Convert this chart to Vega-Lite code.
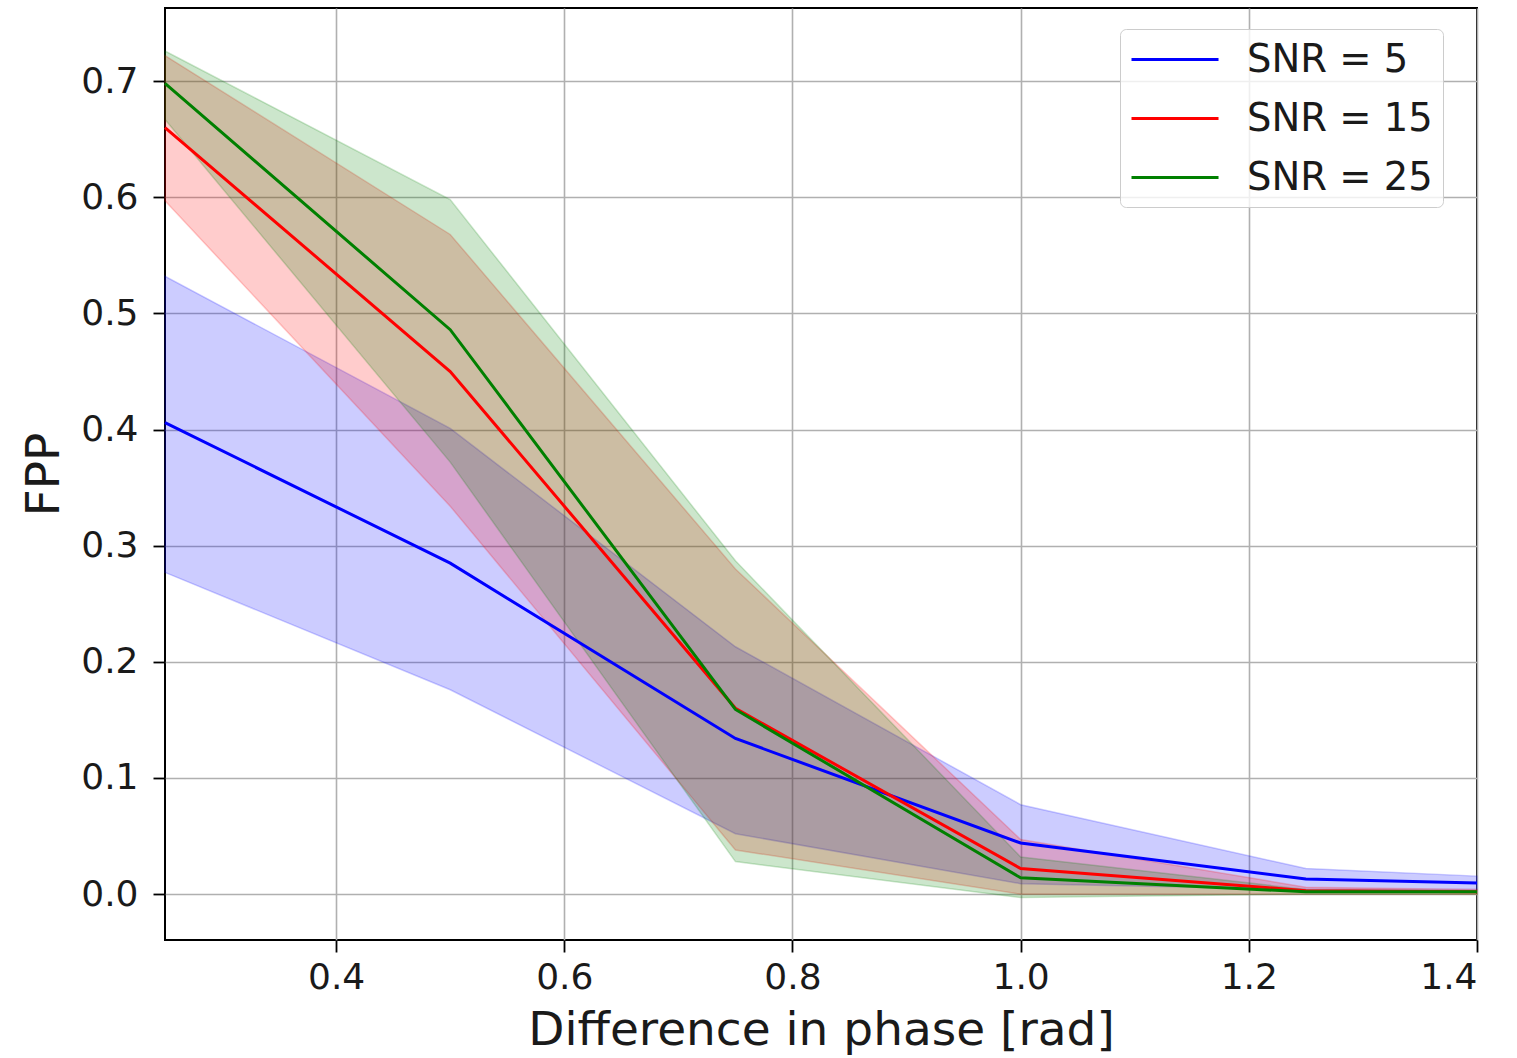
{
  "$schema": "https://vega.github.io/schema/vega-lite/v6.json",
  "width": 1312,
  "height": 932,
  "autosize": {"type": "none"},
  "padding": {"left": 165, "top": 8, "right": 40, "bottom": 118},
  "background": "white",
  "config": {
    "font": "DejaVu Sans",
    "view": {"stroke": "black", "strokeWidth": 2},
    "axis": {
      "domain": false,
      "grid": true,
      "gridColor": "#b0b0b0",
      "gridWidth": 1.6,
      "tickColor": "black",
      "tickWidth": 1.8,
      "tickSize": 12,
      "labelFont": "DejaVu Sans",
      "labelFontSize": 36,
      "labelColor": "#1a1a1a",
      "titleFont": "DejaVu Sans",
      "titleFontSize": 47,
      "titleFontWeight": "normal",
      "titleColor": "#1a1a1a"
    }
  },
  "data": {
    "values": [
      {"snr": "SNR = 5", "x": 0.25, "y": 0.406, "lo": 0.277, "hi": 0.532},
      {"snr": "SNR = 5", "x": 0.5, "y": 0.285, "lo": 0.176, "hi": 0.401},
      {"snr": "SNR = 5", "x": 0.75, "y": 0.134, "lo": 0.052, "hi": 0.213},
      {"snr": "SNR = 5", "x": 1.0, "y": 0.044, "lo": 0.009, "hi": 0.077},
      {"snr": "SNR = 5", "x": 1.25, "y": 0.013, "lo": 0.004, "hi": 0.022},
      {"snr": "SNR = 5", "x": 1.4, "y": 0.0095, "lo": 0.004, "hi": 0.0155},
      {"snr": "SNR = 15", "x": 0.25, "y": 0.66, "lo": 0.597, "hi": 0.722},
      {"snr": "SNR = 15", "x": 0.5, "y": 0.45, "lo": 0.334, "hi": 0.568},
      {"snr": "SNR = 15", "x": 0.75, "y": 0.16, "lo": 0.038, "hi": 0.28},
      {"snr": "SNR = 15", "x": 1.0, "y": 0.022, "lo": 0.0, "hi": 0.047},
      {"snr": "SNR = 15", "x": 1.25, "y": 0.003, "lo": 0.0, "hi": 0.006},
      {"snr": "SNR = 15", "x": 1.4, "y": 0.002, "lo": 0.0, "hi": 0.004},
      {"snr": "SNR = 25", "x": 0.25, "y": 0.698, "lo": 0.667, "hi": 0.726},
      {"snr": "SNR = 25", "x": 0.5, "y": 0.486, "lo": 0.372, "hi": 0.598},
      {"snr": "SNR = 25", "x": 0.75, "y": 0.159, "lo": 0.028, "hi": 0.287},
      {"snr": "SNR = 25", "x": 1.0, "y": 0.014, "lo": -0.003, "hi": 0.032},
      {"snr": "SNR = 25", "x": 1.25, "y": 0.002, "lo": 0.0, "hi": 0.004},
      {"snr": "SNR = 25", "x": 1.4, "y": 0.002, "lo": 0.0, "hi": 0.003}
    ]
  },
  "encoding": {
    "x": {
      "field": "x",
      "type": "quantitative",
      "scale": {"domain": [0.25, 1.4], "nice": false, "zero": false},
      "axis": {
        "values": [0.4, 0.6, 0.8, 1.0, 1.2, 1.4],
        "format": ".1f",
        "labelPadding": 8,
        "title": "Difference in phase [rad]",
        "titlePadding": 12
      }
    }
  },
  "layer": [
    {
      "mark": {"type": "area", "fillOpacity": 0.2, "strokeOpacity": 0.2, "strokeWidth": 1.5},
      "encoding": {
        "y": {
          "field": "lo",
          "type": "quantitative",
          "scale": {"domain": [-0.0395, 0.763], "nice": false, "zero": false},
          "axis": {
            "values": [0, 0.1, 0.2, 0.3, 0.4, 0.5, 0.6, 0.7],
            "format": ".1f",
            "labelPadding": 15,
            "title": "FPP",
            "titlePadding": 12
          }
        },
        "y2": {"field": "hi"},
        "fill": {
          "field": "snr",
          "type": "nominal",
          "scale": {"domain": ["SNR = 5", "SNR = 15", "SNR = 25"], "range": ["#0000ff", "#ff0000", "#008000"]},
          "legend": null
        },
        "stroke": {
          "field": "snr",
          "type": "nominal",
          "scale": {"domain": ["SNR = 5", "SNR = 15", "SNR = 25"], "range": ["#0000ff", "#ff0000", "#008000"]},
          "legend": null
        }
      }
    },
    {
      "mark": {"type": "line", "strokeWidth": 3},
      "encoding": {
        "y": {"field": "y", "type": "quantitative"},
        "color": {
          "field": "snr",
          "type": "nominal",
          "scale": {"domain": ["SNR = 5", "SNR = 15", "SNR = 25"], "range": ["#0000ff", "#ff0000", "#008000"]},
          "legend": {
            "orient": "none",
            "legendX": 955,
            "legendY": 21,
            "title": null,
            "symbolType": "M-1,0H3.58",
            "symbolSize": 1444,
            "symbolStrokeWidth": 3,
            "labelFontSize": 38.5,
            "labelFont": "DejaVu Sans",
            "labelColor": "#1a1a1a",
            "labelOffset": 76,
            "labelLimit": 400,
            "rowPadding": 19,
            "padding": 10,
            "fillColor": "rgba(255,255,255,0.8)",
            "strokeColor": "#cccccc",
            "cornerRadius": 6
          }
        }
      }
    }
  ],
  "resolve": {"scale": {"fill": "independent", "stroke": "independent"}}
}
